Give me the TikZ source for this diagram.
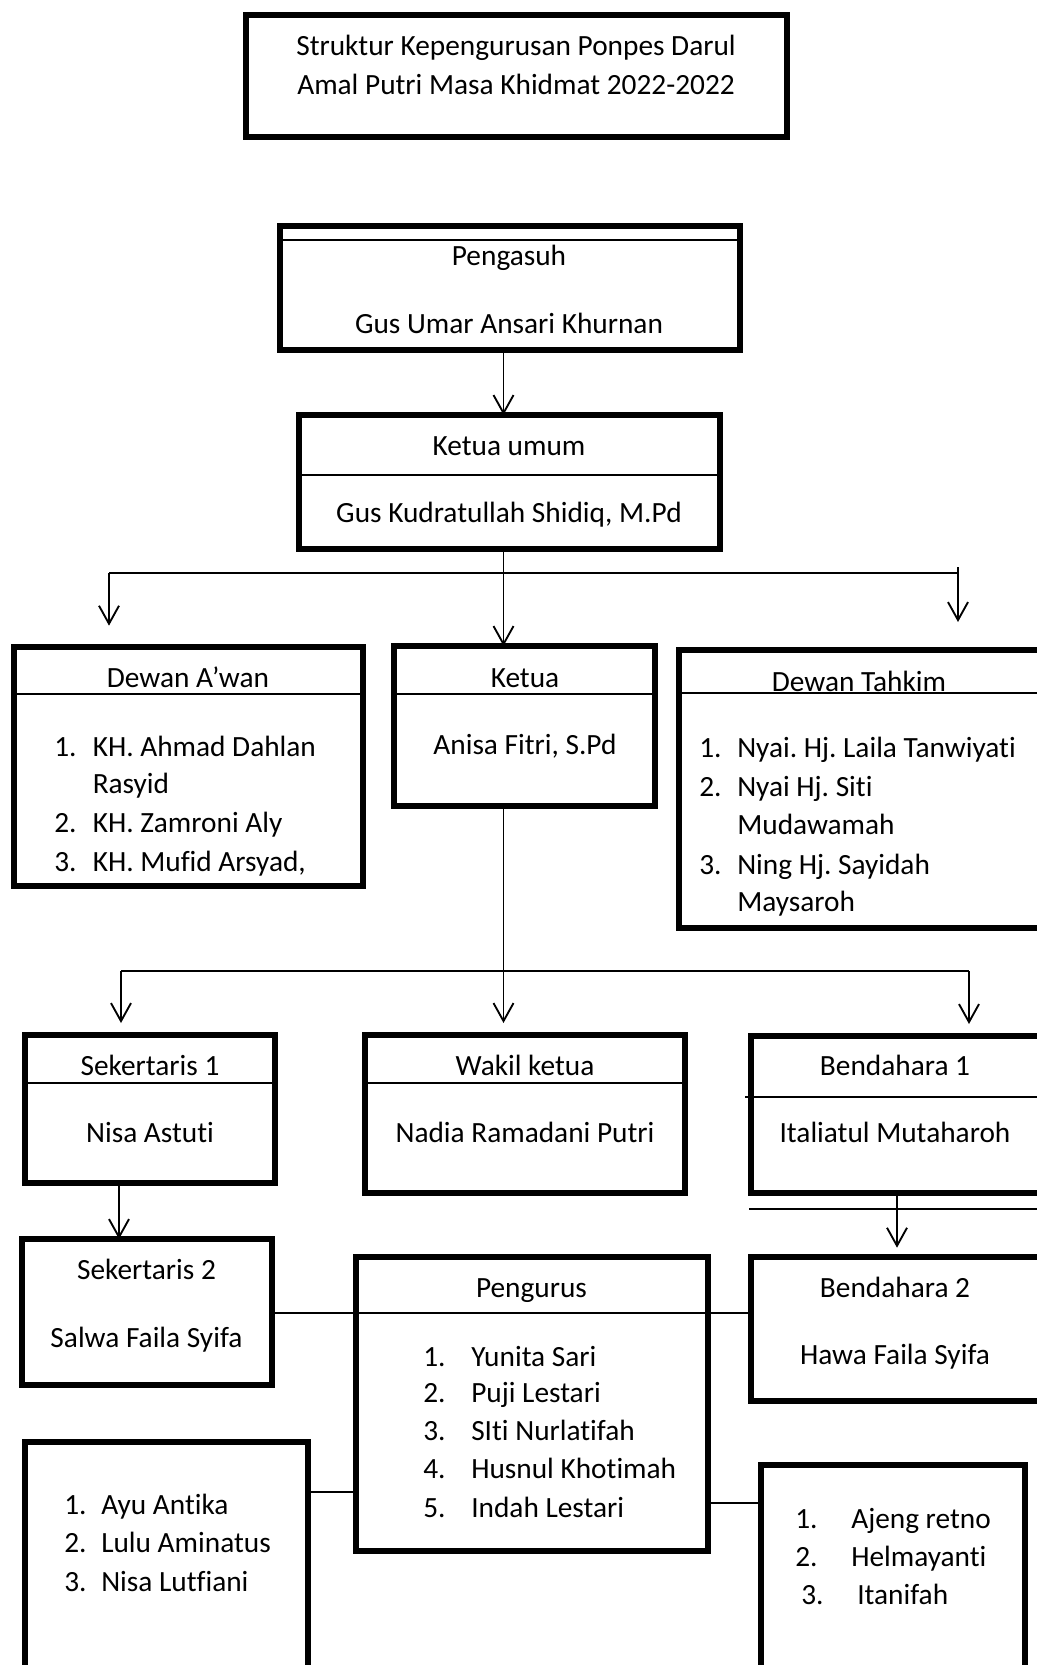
\documentclass[tikz,border=0pt]{standalone}
\usepackage{fontspec}
\setmainfont{Carlito}[Ligatures={NoCommon,NoContextual}]
\usetikzlibrary{arrows.meta}
\frenchspacing
\newcommand\mybox[5]{\node[box, minimum width={(#4-#2)*0.75pt}, minimum height={(#5-#3)*0.75pt}] (#1) at ({(#2+#4)/2},{(#3+#5)/2}) {};}
\begin{document}
\begin{tikzpicture}[x=0.75pt,y=-0.75pt,
  box/.style={draw, line width=3.9pt, inner sep=0pt, outer sep=0pt},
  thinln/.style={line width=1.4pt},
  divln/.style={line width=1.5pt},
  arr/.style={line width=1.4pt, -{Straight Barb[length=13.5pt,width=15pt,line width=1.4pt]}},
  lbl/.style={inner sep=0pt, font=\fontsize{22}{28}\selectfont, text height=14pt, text depth=0pt},
]
\useasboundingbox (0,0) rectangle (1036,1665);

% boxes
\mybox{title}{246}{15}{787}{137}
\mybox{pengasuh}{280}{226}{740}{350}
\mybox{kumum}{299}{415}{720}{549}
\mybox{awan}{14}{647}{363}{886}
\mybox{ketua}{394}{646}{655}{806}
\mybox{tahkim}{679}{650}{1050}{928}
\mybox{sek1}{25}{1035}{275}{1183}
\mybox{wakil}{365}{1035}{685}{1193}
\mybox{bend1}{751}{1036}{1050}{1193}
\mybox{sek2}{22}{1239}{272}{1385}
\mybox{pengurus}{356}{1257}{708}{1551}
\mybox{bend2}{751}{1257}{1050}{1401}
\mybox{ang1}{25}{1442}{308}{1690}
\mybox{ang2}{761}{1465}{1025}{1690}

% dividers
\draw[divln] (280,240) -- (740,240);
\draw[divln] (299,474.6) -- (720,474.6);
\draw[divln] (14,694) -- (363,694);
\draw[divln] (394,694) -- (655,694);
\draw[divln] (682,693) -- (1040,693);
\draw[divln] (25,1083) -- (275,1083);
\draw[divln] (365,1083) -- (685,1083);
\draw[divln] (745,1097) -- (1040,1097);
\draw[divln] (356,1312.7) -- (708,1312.7);
\draw[divln] (749,1209) -- (1040,1209);

% texts
\node[lbl] (t1) at (516,46) {Struktur Kepengurusan Ponpes Darul};
\node[lbl] (t2) at (516,85) {Amal Putri Masa Khidmat 2022-2022};
\node[lbl] (t3) at (509,256) {Pengasuh};
\node[lbl] (t4) at (509,324.5) {Gus Umar Ansari Khurnan};
\node[lbl] (t5) at (509,446) {Ketua umum};
\node[lbl] (t6) at (509,513) {Gus Kudratullah Shidiq, M.Pd};

\node[lbl] (t7) at (188,678) {Dewan A’wan};
\node[lbl,anchor=west] (a1n) at (54,747) {1.};
\node[lbl,anchor=west] (a1) at (92.5,747) {KH. Ahmad Dahlan};
\node[lbl,anchor=west] (a1b) at (92.5,784) {Rasyid};
\node[lbl,anchor=west] (a2n) at (54,823) {2.};
\node[lbl,anchor=west] (a2) at (92.5,823) {KH. Zamroni Aly};
\node[lbl,anchor=west] (a3n) at (54,862) {3.};
\node[lbl,anchor=west] (a3) at (92.5,862) {KH. Mufid Arsyad,};

\node[lbl] (t8) at (525,678) {Ketua};
\node[lbl] (t9) at (525,745) {Anisa Fitri, S.Pd};

\node[lbl] (t10) at (859,682) {Dewan Tahkim};
\node[lbl,anchor=west] (d1n) at (699,748) {1.};
\node[lbl,anchor=west] (d1) at (737,748) {Nyai. Hj. Laila Tanwiyati};
\node[lbl,anchor=west] (d2n) at (699,787) {2.};
\node[lbl,anchor=west] (d2) at (737,787) {Nyai Hj. Siti};
\node[lbl,anchor=west] (d2b) at (737,825) {Mudawamah};
\node[lbl,anchor=west] (d3n) at (699,865) {3.};
\node[lbl,anchor=west] (d3) at (737,865) {Ning Hj. Sayidah};
\node[lbl,anchor=west] (d3b) at (737,902) {Maysaroh};

\node[lbl] (t11) at (150,1066) {Sekertaris 1};
\node[lbl] (t12) at (150,1133) {Nisa Astuti};
\node[lbl] (t13) at (525,1066) {Wakil ketua};
\node[lbl] (t14) at (525,1133) {Nadia Ramadani Putri};
\node[lbl] (t15) at (895,1066) {Bendahara 1};
\node[lbl] (t16) at (895,1133) {Italiatul Mutaharoh};

\node[lbl] (t17) at (146.5,1270) {Sekertaris 2};
\node[lbl] (t18) at (146.5,1338) {Salwa Faila Syifa};
\node[lbl] (t19) at (531.5,1288) {Pengurus};
\node[lbl,anchor=west] (p1n) at (423,1357) {1.};
\node[lbl,anchor=west] (p1) at (471,1357) {Yunita Sari};
\node[lbl,anchor=west] (p2n) at (423,1393) {2.};
\node[lbl,anchor=west] (p2) at (471,1393) {Puji Lestari};
\node[lbl,anchor=west] (p3n) at (423,1431) {3.};
\node[lbl,anchor=west] (p3) at (471,1431) {SIti Nurlatifah};
\node[lbl,anchor=west] (p4n) at (423,1469) {4.};
\node[lbl,anchor=west] (p4) at (471,1469) {Husnul Khotimah};
\node[lbl,anchor=west] (p5n) at (423,1508) {5.};
\node[lbl,anchor=west] (p5) at (471,1508) {Indah Lestari};
\node[lbl] (t20) at (895,1288) {Bendahara 2};
\node[lbl] (t21) at (895,1355) {Hawa Faila Syifa};

\node[lbl,anchor=west] (l1n) at (64,1505) {1.};
\node[lbl,anchor=west] (l1) at (101,1505) {Ayu Antika};
\node[lbl,anchor=west] (l2n) at (64,1543) {2.};
\node[lbl,anchor=west] (l2) at (101,1543) {Lulu Aminatus};
\node[lbl,anchor=west] (l3n) at (64,1582) {3.};
\node[lbl,anchor=west] (l3) at (101,1582) {Nisa Lutfiani};

\node[lbl,anchor=west] (r1n) at (795,1519) {1.};
\node[lbl,anchor=west] (r1) at (851,1519) {Ajeng retno};
\node[lbl,anchor=west] (r2n) at (795,1557) {2.};
\node[lbl,anchor=west] (r2) at (851,1557) {Helmayanti};
\node[lbl,anchor=west] (r3n) at (801,1595) {3.};
\node[lbl,anchor=west] (r3) at (857,1595) {Itanifah};

% connectors
\coordinate (spine) at (503.5,0);
\coordinate (b1L) at (109,573);
\coordinate (b1R) at (958,573);
\coordinate (b1Rt) at (958,567);
\coordinate (b2L) at (121,971);
\coordinate (b2R) at (969,971);
\coordinate (sx) at (119,0);
\coordinate (bx) at (897,0);
\coordinate (h1) at (0,1312.7);
\coordinate (h2) at (0,1492);
\coordinate (h3) at (0,1503);

\draw[arr] (pengasuh.south -| spine) -- (kumum.north -| spine);
\draw[arr] (kumum.south -| spine) -- (ketua.north -| spine);
\draw[thinln] (b1L) -- (b1R);
\draw[arr, shorten >=16pt] (b1L) -- (awan.north -| b1L);
\draw[arr, shorten >=21pt] (b1Rt) -- (tahkim.north -| b1R);

\draw[arr, shorten >=9pt] (ketua.south -| spine) -- (wakil.north -| spine);
\draw[thinln] (b2L) -- (b2R);
\draw[arr, shorten >=9pt] (b2L) -- (sek1.north -| b2L);
\draw[arr, shorten >=9pt] (b2R) -- (bend1.north -| b2R);

\draw[arr] (sek1.south -| sx) -- (sek2.north -| sx);
\draw[arr, shorten >=7pt] (bend1.south -| bx) -- (bend2.north -| bx);

\draw[thinln] (sek2.east |- h1) -- (pengurus.west |- h1);
\draw[thinln] (pengurus.east |- h1) -- (bend2.west |- h1);
\draw[thinln] (ang1.east |- h2) -- (pengurus.west |- h2);
\draw[thinln] (pengurus.east |- h3) -- (ang2.west |- h3);
\end{tikzpicture}
\end{document}
